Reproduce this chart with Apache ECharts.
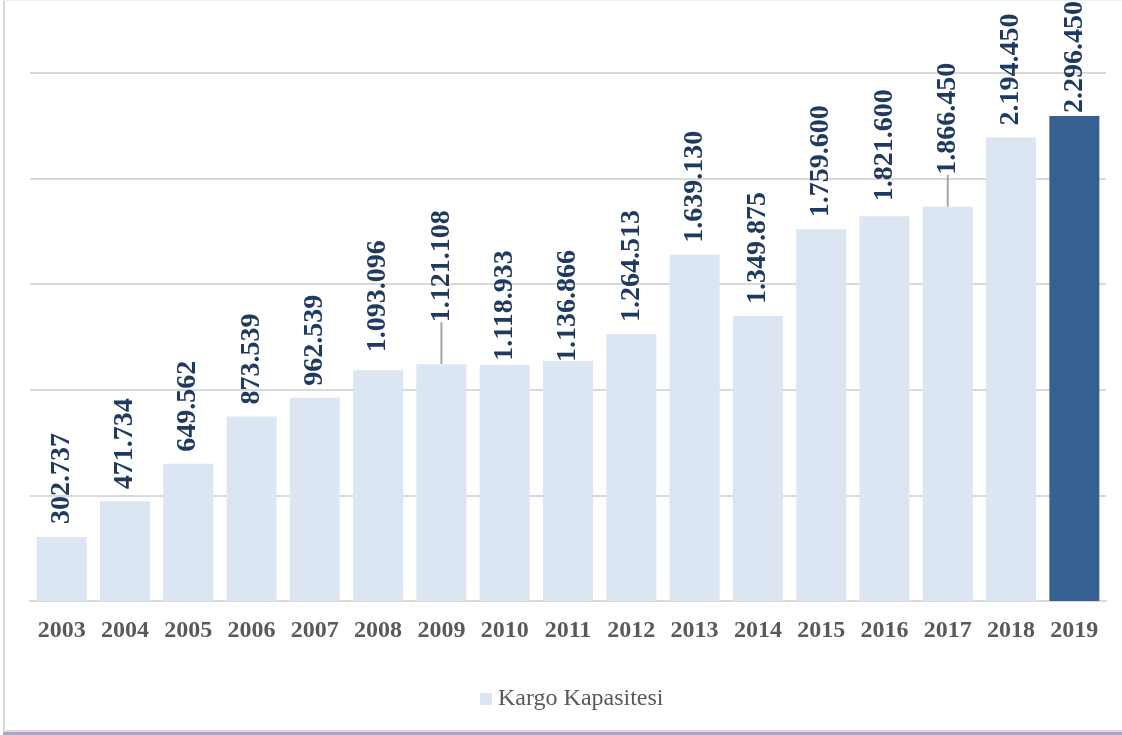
<!DOCTYPE html>
<html>
<head>
<meta charset="utf-8">
<script src="https://cdn.jsdelivr.net/npm/echarts@6/dist/echarts.min.js"></script>
<style>
html,body{margin:0;padding:0;background:#fff;}
#chart{width:1122px;height:735px;}
</style>
</head>
<body>
<div id="chart"></div>
<script>
var categories = ['2003','2004','2005','2006','2007','2008','2009','2010','2011','2012','2013','2014','2015','2016','2017','2018','2019'];
var values = [302737, 471734, 649562, 873539, 962539, 1093096, 1121108, 1118933, 1136866, 1264513, 1639130, 1349875, 1759600, 1821600, 1866450, 2194450, 2296450];
var seriesName = 'Kargo Kapasitesi';
var yTicks = [0, 500000, 1000000, 1500000, 2000000, 2500000];

function fmt(v){
  return String(v).replace(/\B(?=(\d{3})+(?!\d))/g, '.');
}

// label offsets along the rotated text direction (px upward) for labels Excel moved
var labelShift = {0:1, 5:6, 6:20, 7:-8, 8:-13, 13:3, 14:10, 16:-9};
var leaderIdx = {6:true, 14:true};

var data = values.map(function(v, i){
  var d = {value: v};
  if (i === values.length - 1) d.itemStyle = {color: '#376092'};
  d.labelLine = {show: !!leaderIdx[i]};
  if (leaderIdx[i]) d.label = {padding: [0, 0, 0, 10]};
  return d;
});

var chart = echarts.init(document.getElementById('chart'));
chart.setOption({
  animation: false,
  backgroundColor: '#fff',
  grid: {left: 30, right: 16, top: 73, bottom: 134},
  legend: {
    data: [seriesName],
    left: 475, top: 682,
    icon: 'rect', itemWidth: 12, itemHeight: 12, itemGap: 4,
    textStyle: {fontFamily: 'Liberation Serif', fontSize: 24, color: '#595959', padding: [0,0,0,1]}
  },
  xAxis: {
    type: 'category',
    data: categories,
    axisLine: {lineStyle: {color: '#d9d9d9', width: 2}},
    axisTick: {show: false},
    axisLabel: {fontFamily: 'Liberation Serif', fontWeight: 'bold', fontSize: 24, color: '#595959', margin: 18}
  },
  yAxis: {
    type: 'value',
    min: yTicks[0], max: yTicks[yTicks.length-1], interval: yTicks[1]-yTicks[0],
    axisLabel: {show: false},
    axisLine: {show: false},
    axisTick: {show: false},
    splitLine: {lineStyle: {color: '#d9d9d9', width: 2}}
  },
  series: [{
    type: 'bar',
    name: seriesName,
    data: data,
    barWidth: 50,
    itemStyle: {color: '#dce6f2'},
    label: {
      show: true,
      position: 'top',
      rotate: 90,
      align: 'left',
      verticalAlign: 'middle',
      distance: 12,
      fontFamily: 'Liberation Serif',
      fontWeight: 'bold',
      fontSize: 28,
      color: '#1f3a60',
      formatter: function(p){ return fmt(p.value); }
    },
    labelLine: {show: false, lineStyle: {color: '#a6a6a6', width: 2}},
    labelLayout: function(p){
      var dx = labelShift[p.dataIndex] || 0;
      return {dx: dx};
    }
  }],
  graphic: [
    {type: 'rect', shape: {x: 3, y: 0, width: 2, height: 733}, style: {fill: '#d9d9d9'}, silent: true},
    {type: 'rect', shape: {x: 3, y: 0, width: 1119, height: 1}, style: {fill: '#f0f0f0'}, silent: true},
    {type: 'rect', shape: {x: 3, y: 730, width: 1119, height: 2}, style: {fill: '#d9d9d9'}, silent: true},
    {type: 'rect', shape: {x: 3, y: 732, width: 1119, height: 3}, style: {fill: '#b3a2c7'}, silent: true}
  ]
});
</script>
</body>
</html>
